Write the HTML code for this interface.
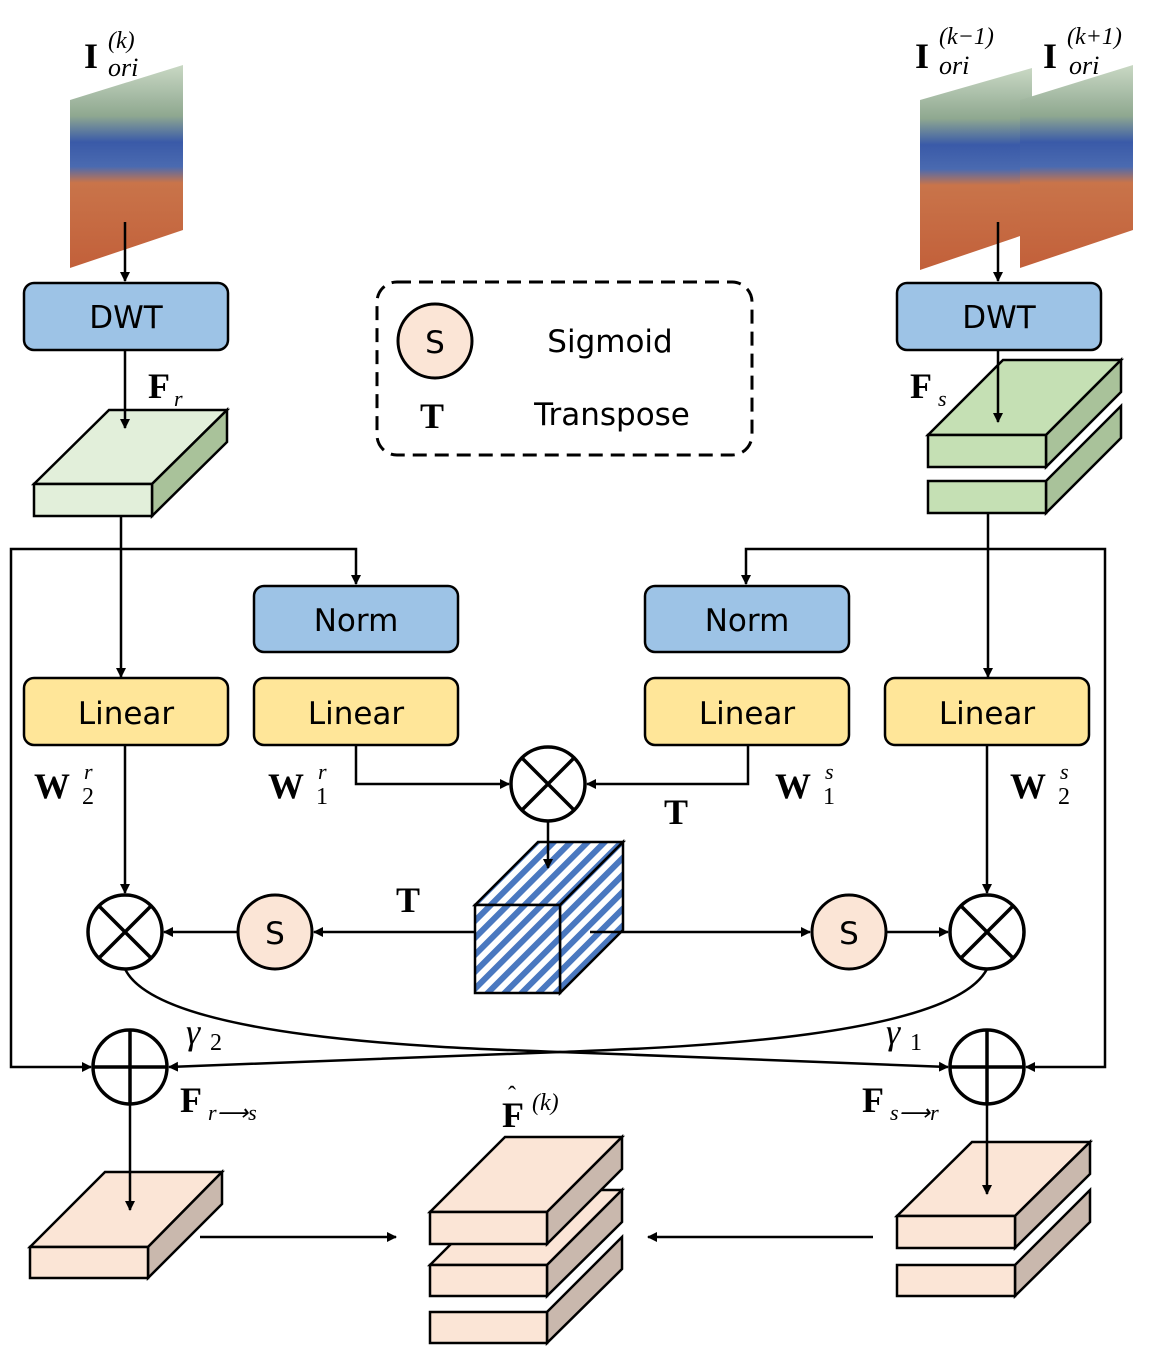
<!DOCTYPE html>
<html><head><meta charset="utf-8"><style>
body{margin:0;background:#fff}
svg{display:block}
.t{font-family:"DejaVu Sans","Liberation Sans",sans-serif;font-size:31px;text-anchor:middle}
.m{font-family:"Liberation Serif",serif;font-weight:bold}
.i{font-family:"Liberation Serif",serif;font-style:italic}
</style></head><body>
<svg width="1163" height="1365" viewBox="0 0 1163 1365" xmlns="http://www.w3.org/2000/svg">
<defs>
<marker id="a" markerWidth="10" markerHeight="10" refX="9" refY="5" orient="auto" markerUnits="userSpaceOnUse"><path d="M0,0 L10,5 L0,10 Z" fill="#000"/></marker>
<linearGradient id="ph" x1="0" y1="0" x2="0" y2="1">
<stop offset="0" stop-color="#c9d8c4"/><stop offset="0.25" stop-color="#8fa890"/><stop offset="0.38" stop-color="#3a5aa8"/><stop offset="0.5" stop-color="#4a6ab0"/><stop offset="0.58" stop-color="#c9744a"/><stop offset="1" stop-color="#c2603a"/></linearGradient>
<pattern id="hat" width="12" height="12" patternUnits="userSpaceOnUse" patternTransform="rotate(45)"><rect width="12" height="12" fill="#fff"/><rect width="6" height="12" fill="#4a78c0"/></pattern>
</defs>
<g stroke="#000" stroke-width="2.5" fill="none">
<polygon points="70,100 183,65 183,230 70,268" fill="url(#ph)" stroke="none"/>
<polygon points="920,100 1032,68 1032,232 920,270" fill="url(#ph)" stroke="none"/>
<polygon points="1020,100 1133,65 1133,230 1020,268" fill="url(#ph)" stroke="none"/>
<rect x="24" y="283" width="204" height="67" rx="10" fill="#9dc3e6"/>
<rect x="897" y="283" width="204" height="67" rx="10" fill="#9dc3e6"/>
<line x1="125" y1="222" x2="125" y2="281" marker-end="url(#a)"/>
<line x1="998" y1="222" x2="998" y2="281" marker-end="url(#a)"/>
<polygon points="34,484 109,410 227,410 152,484" fill="#e2efda"/>
<polygon points="152,484 227,410 227,442 152,516" fill="#a9c29a"/>
<rect x="34" y="484" width="118" height="32" fill="#e2efda"/>
<line x1="125" y1="350" x2="125" y2="428" marker-end="url(#a)"/>
<polygon points="1046,481 1121,406 1121,438 1046,513" fill="#a9c29a"/>
<rect x="928" y="481" width="118" height="32" fill="#c5e0b4"/>
<polygon points="928,435 1003,360 1121,360 1046,435" fill="#c5e0b4"/>
<polygon points="1046,435 1121,360 1121,392 1046,467" fill="#a9c29a"/>
<rect x="928" y="435" width="118" height="32" fill="#c5e0b4"/>
<line x1="998" y1="350" x2="998" y2="422" marker-end="url(#a)"/>
<rect x="377" y="282" width="375" height="173" rx="20" stroke-width="3" stroke-dasharray="14,8"/>
<circle cx="435" cy="341" r="37" fill="#fbe5d6" stroke-width="3"/>
<polyline points="121,516 121,677" marker-end="url(#a)"/>
<polyline points="121,549 356,549 356,584" marker-end="url(#a)"/>
<polyline points="121,549 11,549 11,1067 91,1067" marker-end="url(#a)"/>
<polyline points="988,513 988,677" marker-end="url(#a)"/>
<polyline points="988,549 746,549 746,584" marker-end="url(#a)"/>
<polyline points="988,549 1105,549 1105,1067 1026,1067" marker-end="url(#a)"/>
<rect x="254" y="586" width="204" height="66" rx="10" fill="#9dc3e6"/>
<rect x="645" y="586" width="204" height="66" rx="10" fill="#9dc3e6"/>
<rect x="24" y="678" width="204" height="67" rx="10" fill="#ffe699"/>
<rect x="254" y="678" width="204" height="67" rx="10" fill="#ffe699"/>
<rect x="645" y="678" width="204" height="67" rx="10" fill="#ffe699"/>
<rect x="885" y="678" width="204" height="67" rx="10" fill="#ffe699"/>
<polyline points="356,745 356,784 509,784" marker-end="url(#a)"/>
<polyline points="748,745 748,784 587,784" marker-end="url(#a)"/>
<circle cx="548" cy="784" r="37" fill="#fff" stroke-width="3.5"/>
<line x1="522" y1="758" x2="574" y2="810" stroke-width="3.5"/><line x1="574" y1="758" x2="522" y2="810" stroke-width="3.5"/>
<polygon points="475,905 538,842 623,842 560,905" fill="url(#hat)"/>
<polygon points="560,905 623,842 623,930 560,993" fill="url(#hat)"/>
<rect x="475" y="905" width="85" height="88" fill="url(#hat)"/>
<line x1="548" y1="821" x2="548" y2="868" marker-end="url(#a)"/>
<line x1="475" y1="932" x2="314" y2="932" marker-end="url(#a)"/>
<line x1="238" y1="932" x2="164" y2="932" marker-end="url(#a)"/>
<line x1="590" y1="932" x2="810" y2="932" marker-end="url(#a)"/>
<line x1="886" y1="932" x2="948" y2="932" marker-end="url(#a)"/>
<line x1="125" y1="745" x2="125" y2="893" marker-end="url(#a)"/>
<line x1="987" y1="745" x2="987" y2="893" marker-end="url(#a)"/>
<circle cx="275" cy="932" r="37" fill="#fbe5d6" stroke-width="3"/>
<circle cx="849" cy="932" r="37" fill="#fbe5d6" stroke-width="3"/>
<g stroke-width="3.5">
<circle cx="125" cy="932" r="37" fill="#fff"/>
<line x1="99" y1="906" x2="151" y2="958"/><line x1="151" y1="906" x2="99" y2="958"/>
<circle cx="987" cy="932" r="37" fill="#fff"/>
<line x1="961" y1="906" x2="1013" y2="958"/><line x1="1013" y1="906" x2="961" y2="958"/>
</g>
<path d="M125,969 C160,1040 450,1048 560,1052 C700,1057 850,1064 948,1067" marker-end="url(#a)"/>
<path d="M987,969 C950,1040 660,1048 560,1052 C420,1057 260,1064 169,1067" marker-end="url(#a)"/>
<g stroke-width="3.5">
<circle cx="130" cy="1067" r="37" fill="#fff"/>
<line x1="130" y1="1030" x2="130" y2="1104"/><line x1="93" y1="1067" x2="167" y2="1067"/>
<circle cx="987" cy="1067" r="37" fill="#fff"/>
<line x1="987" y1="1030" x2="987" y2="1104"/><line x1="950" y1="1067" x2="1024" y2="1067"/>
</g>
<polygon points="30,1247 105,1172 222,1172 148,1247" fill="#fbe5d6"/>
<polygon points="148,1247 222,1172 222,1204 148,1278" fill="#c9b8ad"/>
<rect x="30" y="1247" width="118" height="31" fill="#fbe5d6"/>
<line x1="130" y1="1104" x2="130" y2="1210" marker-end="url(#a)"/>
<line x1="200" y1="1237" x2="396" y2="1237" marker-end="url(#a)"/>
<polygon points="547,1312 622,1237 622,1269 547,1343" fill="#c9b8ad"/>
<rect x="430" y="1312" width="117" height="31" fill="#fbe5d6"/>
<polygon points="430,1265 505,1190 622,1190 547,1265" fill="#fbe5d6"/>
<polygon points="547,1265 622,1190 622,1222 547,1296" fill="#c9b8ad"/>
<rect x="430" y="1265" width="117" height="31" fill="#fbe5d6"/>
<polygon points="430,1212 505,1137 622,1137 547,1212" fill="#fbe5d6"/>
<polygon points="547,1212 622,1137 622,1169 547,1244" fill="#c9b8ad"/>
<rect x="430" y="1212" width="117" height="32" fill="#fbe5d6"/>
<polygon points="1015,1265 1090,1190 1090,1222 1015,1296" fill="#c9b8ad"/>
<rect x="897" y="1265" width="118" height="31" fill="#fbe5d6"/>
<polygon points="897,1216 972,1142 1090,1142 1015,1216" fill="#fbe5d6"/>
<polygon points="1015,1216 1090,1142 1090,1174 1015,1248" fill="#c9b8ad"/>
<rect x="897" y="1216" width="118" height="32" fill="#fbe5d6"/>
<line x1="987" y1="1104" x2="987" y2="1194" marker-end="url(#a)"/>
<line x1="873" y1="1237" x2="648" y2="1237" marker-end="url(#a)"/>
</g>
<g class="t">
<text x="126" y="328">DWT</text><text x="999" y="328">DWT</text>
<text x="356" y="631">Norm</text><text x="747" y="631">Norm</text>
<text x="126" y="724">Linear</text><text x="356" y="724">Linear</text>
<text x="747" y="724">Linear</text><text x="987" y="724">Linear</text>
<text x="435" y="353">S</text><text x="275" y="944">S</text><text x="849" y="944">S</text>
<text x="610" y="352">Sigmoid</text><text x="612" y="425">Transpose</text>
</g>
<g font-size="36">
<text class="m" x="84" y="68">I</text><text class="i" x="108" y="48" font-size="24">(k)</text><text class="i" x="108" y="76" font-size="26">ori</text>
<text class="m" x="915" y="68">I</text><text class="i" x="939" y="44" font-size="24">(k−1)</text><text class="i" x="939" y="74" font-size="26">ori</text>
<text class="m" x="1043" y="68">I</text><text class="i" x="1067" y="44" font-size="24">(k+1)</text><text class="i" x="1069" y="74" font-size="26">ori</text>
<text class="m" x="148" y="398">F</text><text class="i" x="174" y="406" font-size="22">r</text>
<text class="m" x="910" y="398">F</text><text class="i" x="938" y="406" font-size="22">s</text>
<text class="m" x="420" y="428">T</text>
<text class="m" x="664" y="824">T</text>
<text class="m" x="396" y="912">T</text>
<text class="m" x="34" y="798">W</text><text class="i" x="84" y="779" font-size="22">r</text><text x="82" y="804" font-size="24" font-family="Liberation Serif">2</text>
<text class="m" x="268" y="798">W</text><text class="i" x="318" y="779" font-size="22">r</text><text x="316" y="804" font-size="24" font-family="Liberation Serif">1</text>
<text class="m" x="775" y="798">W</text><text class="i" x="825" y="779" font-size="22">s</text><text x="823" y="804" font-size="24" font-family="Liberation Serif">1</text>
<text class="m" x="1010" y="798">W</text><text class="i" x="1060" y="779" font-size="22">s</text><text x="1058" y="804" font-size="24" font-family="Liberation Serif">2</text>
<text class="i" x="186" y="1044">γ</text><text x="210" y="1050" font-size="24" font-family="Liberation Serif">2</text>
<text class="i" x="886" y="1044">γ</text><text x="910" y="1050" font-size="24" font-family="Liberation Serif">1</text>
<text class="m" x="180" y="1112">F</text><text class="i" x="208" y="1120" font-size="22">r⟶s</text>
<text class="m" x="862" y="1112">F</text><text class="i" x="890" y="1120" font-size="22">s⟶r</text>
<text class="m" x="502" y="1127">F</text><text x="508" y="1103" font-size="24">ˆ</text><text class="i" x="532" y="1110" font-size="24">(k)</text>
</g>
</svg>
</body></html>
